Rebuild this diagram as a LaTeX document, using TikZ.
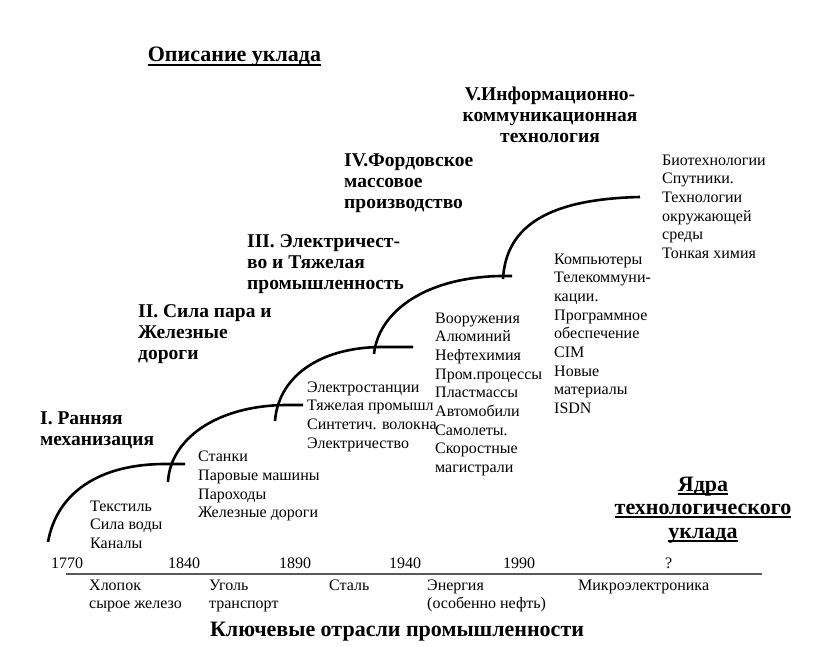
\documentclass[tikz,border=0pt]{standalone}
\usepackage{fontspec}
\setmainfont{Liberation Serif}[BoldFont={Liberation Serif Bold}]
\usetikzlibrary{calc}
\tikzset{
  lst/.style={font=\fontsize{16}{18.7}\selectfont, align=left, anchor=north west, inner sep=0pt},
  hd/.style={font=\bfseries\fontsize{19.5}{21}\selectfont, align=left, anchor=north west, inner sep=0pt},
  yr/.style={font=\fontsize{16}{18}\selectfont, anchor=base west, inner sep=0pt},
  bot/.style={font=\fontsize{16}{18}\selectfont, align=left, anchor=north west, inner sep=0pt},
  big/.style={font=\bfseries\fontsize{22}{24}\selectfont, anchor=base, inner sep=0pt},
  wave/.style={line width=2.6pt},
  ul/.style={line width=1.6pt},
  axisline/.style={line width=1.6pt, draw=black!65}
}
\begin{document}
\begin{tikzpicture}[x=1pt,y=-1pt]
\useasboundingbox (0,0) rectangle (820,647);

% title
\node[big] (ttl) at (234.5,62) {Описание уклада};
\draw[ul] ($(ttl.base west)+(0,3)$) -- ($(ttl.base east)+(0,3)$);

% headings of the waves
\node[hd, anchor=north, align=center] (h5) at (550,87) {V.Информационно-\\коммуникационная\\технология};
\node[hd] (h4) at (344,154) {IV.Фордовское\\массовое\\производство};
\node[hd] (h3) at (247,234) {III. Электричест-\\во и Тяжелая\\промышленность};
\node[hd] (h2) at (138,304) {II. Сила пара и\\Железные\\дороги};
\node[hd] (h1) at (40,412) {I. Ранняя\\механизация};

% waves
\draw[wave] (48,542) .. controls (57,492) and (100,464) .. (165,464) -- (185,464);
\draw[wave] (168,482) .. controls (170,440) and (215,406) .. (285,405) -- (303,405);
\draw[wave] (275,421) .. controls (278,380) and (315,348) .. (380,347) -- (413,347);
\draw[wave] (374,354) .. controls (378,315) and (420,278) .. (500,276) -- (512,276);
\draw[wave] (503,279) .. controls (506,225) and (550,199) .. (640,197);

% lists
\node[lst] (l1) at (90,500.4) {Текстиль\\Сила воды\\Каналы};
\node[lst] (l2) at (198,451) {Станки\\Паровые машины\\Пароходы\\Железные дороги};
\node[lst] (l3) at (307,381.4) {Электростанции\\Тяжелая промышл\\Синтетич. волокна\\Электричество};
\node[lst] (l4) at (435,312.4) {Вооружения\\Алюминий\\Нефтехимия\\Пром.процессы\\Пластмассы\\Автомобили\\Самолеты.\\Скоростные\\магистрали};
\node[lst] (l5) at (554,253.4) {Компьютеры\\Телекоммуни-\\кации.\\Программное\\обеспечение\\CIM\\Новые\\материалы\\ISDN};
\node[lst] (l6) at (662,154.4) {Биотехнологии\\Спутники.\\Технологии\\окружающей\\среды\\Тонкая химия};

% cores
\node[big] (c1) at (703,491) {Ядра};
\node[big] (c2) at (703,514) {технологического};
\node[big] (c3) at (703,538) {уклада};
\draw[ul] ($(c1.base west)+(0,3)$) -- ($(c1.base east)+(0,3)$);
\draw[ul] ($(c2.base west)+(0,3)$) -- ($(c2.base east)+(0,3)$);
\draw[ul] ($(c3.base west)+(0,3)$) -- ($(c3.base east)+(0,3)$);

% years
\node[yr] (y1) at (51,568) {1770};
\node[yr] (y2) at (168,568) {1840};
\node[yr] (y3) at (279,568) {1890};
\node[yr] (y4) at (389,568) {1940};
\node[yr] (y5) at (503,568) {1990};
\node[yr] (y6) at (665,568) {?};

% axis
\coordinate (ax0) at (66,574);
\coordinate (ax1) at (762,574);
\draw[axisline] (ax0) -- (ax1);

% key branches
\node[bot] (k1) at (89,579.4) {Хлопок\\сырое железо};
\node[bot] (k2) at (209,579.4) {Уголь\\транспорт};
\node[bot] (k3) at (329,579.4) {Сталь};
\node[bot] (k4) at (427,579.4) {Энергия\\(особенно нефть)};
\node[bot] (k5) at (578,579.4) {Микроэлектроника};

\node[big] (kt) at (397,636) {Ключевые отрасли промышленности};
\end{tikzpicture}
\end{document}
